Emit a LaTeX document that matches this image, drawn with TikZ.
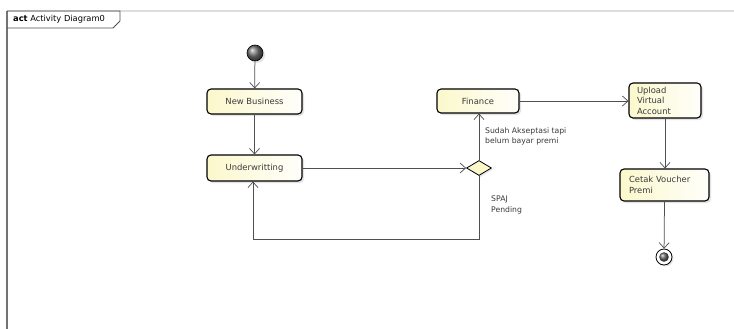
\documentclass[tikz,border=0pt]{standalone}
\usepackage{fontspec}
\setmainfont{DejaVu Sans}
\usetikzlibrary{arrows.meta,shapes.geometric,shadows}
\definecolor{lineclr}{HTML}{505050}
\definecolor{textclr}{HTML}{3A3A3A}
\definecolor{actfill}{HTML}{FBF8CC}
\definecolor{framegrey}{HTML}{DDDDDD}
\tikzset{
  action/.style={draw=black, line width=1.1pt, rounded corners=4pt,
    left color=actfill, right color=white!92!actfill,
    drop shadow={shadow xshift=2pt, shadow yshift=-2pt, opacity=0.22},
    inner sep=0pt, text=textclr, font=\fontsize{8.4}{10.5}\selectfont},
  flow/.style={draw=lineclr, line width=0.75pt,
    -{Straight Barb[length=5.5pt,width=10pt,line width=0.7pt]}},
  guard/.style={anchor=north west, inner sep=0pt, align=left, text=textclr,
    font=\fontsize{7.7}{10.5}\selectfont},
}
\begin{document}
\begin{tikzpicture}[x=1pt,y=-1pt]
  \useasboundingbox (0,0) rectangle (734,329);
  \fill[white] (0,0) rectangle (734,329);

  % diagram frame with name tab
  \draw[framegrey, line width=1.2pt] (7,11) -- (734,11);
  \draw[lineclr!80, line width=1.4pt] (7,11) -- (7,329);
  \draw[lineclr, line width=0.8pt] (7,11) -- (120,11) -- (120,21) -- (113,28) -- (7,28);
  \node[anchor=west, inner sep=0pt, text=black, font=\fontsize{8.3}{10}\selectfont]
    (title) at (13,19.5) {\textbf{act} Activity Diagram0};

  % initial and final nodes
  \shade[ball color=black!55, drop shadow={shadow xshift=2pt, shadow yshift=-2pt, opacity=0.2}]
    (255,53) circle[radius=8];
  \node[circle, draw=black, line width=0.6pt, minimum size=16pt, inner sep=0pt]
    (start) at (255,53) {};
  \node[circle, draw=black, line width=0.8pt, fill=white, minimum size=16pt, inner sep=0pt,
    drop shadow={shadow xshift=1.5pt, shadow yshift=-1.5pt, opacity=0.2}]
    (stop) at (664,257) {};
  \shade[ball color=black!60] (664,257) circle[radius=4.8];

  % actions
  \node[action, minimum width=95pt, minimum height=25pt] (nb) at (254.5,101.5) {New Business};
  \node[action, minimum width=95pt, minimum height=26pt] (uw) at (254.5,168) {Underwritting};
  \node[action, minimum width=82pt, minimum height=24pt] (fin) at (478,101) {Finance};
  \node[action, minimum width=72pt, minimum height=35pt, text width=56pt, align=left,
    inner xsep=8pt] (up) at (665,100.5) {Upload\\Virtual\\Account};
  \node[action, minimum width=89pt, minimum height=32pt, text width=71pt, align=left,
    inner xsep=9pt] (ce) at (664.5,185) {Cetak Voucher\\Premi};

  % decision
  \node[diamond, draw=black, line width=0.8pt, fill=actfill, inner sep=0pt,
    minimum width=25pt, minimum height=15pt,
    drop shadow={shadow xshift=1.5pt, shadow yshift=-1.5pt, opacity=0.2}]
    (dec) at (479,168) {};

  % control flows
  \draw[flow] (start) -- (nb);
  \draw[flow] (nb) -- (uw);
  \draw[flow] (uw.east) -- (dec.west);
  \draw[flow] (dec.north) -- (dec.north |- fin.south);
  \coordinate (loopL) at (253,239);
  \draw[flow] (dec.south) |- (loopL) -- (loopL |- uw.south);
  \draw[flow] (fin.east) -- (fin.east -| up.west);
  \draw[flow] (up.south) -- (up.south |- ce.north);
  \draw[flow] (ce.south) -- (stop);

  % guards
  \node[guard] (g1) at (485,127) {Sudah Akseptasi tapi\\belum bayar premi};
  \node[guard] (g2) at (491,196) {SPAJ\\Pending};
\end{tikzpicture}
\end{document}
